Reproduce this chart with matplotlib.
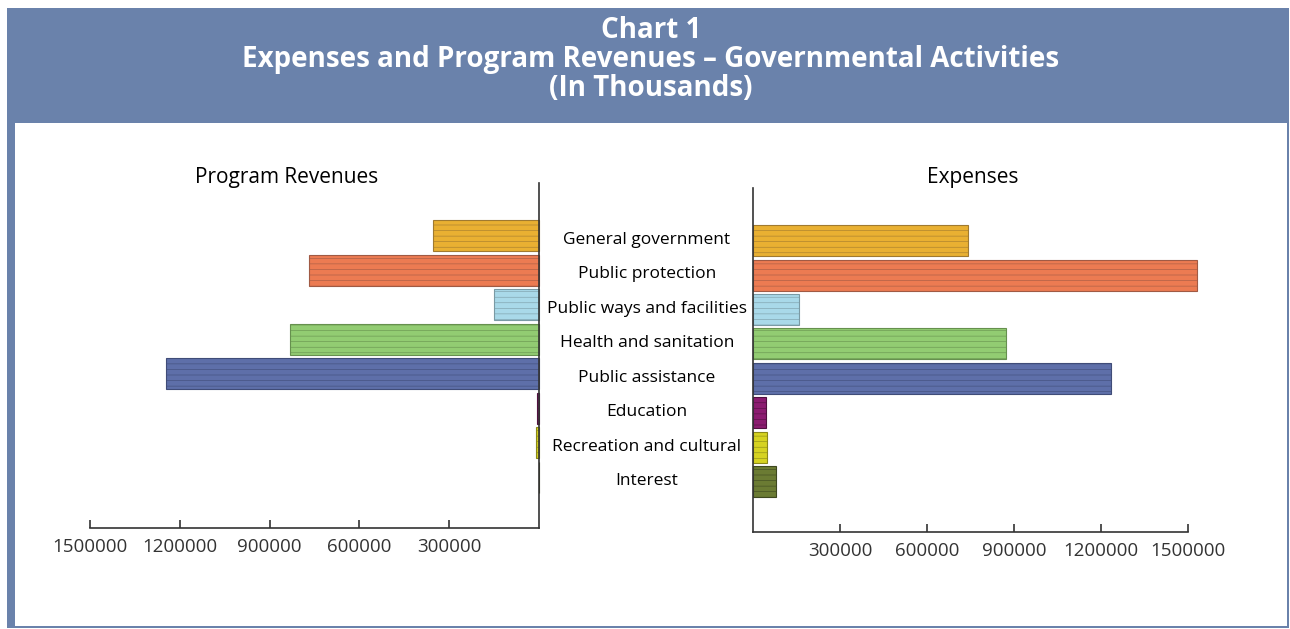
import matplotlib.pyplot as plt
from matplotlib.patches import Rectangle
from matplotlib.transforms import blended_transform_factory

# data (in thousands)
categories = ["General government", "Public protection", "Public ways and facilities",
              "Health and sanitation", "Public assistance", "Education",
              "Recreation and cultural", "Interest"]
revenues = [353000, 770000, 150000, 833000, 1247000, 8000, 10000, 0]
expenses = [741000, 1531000, 159000, 872000, 1234000, 45000, 48000, 79000]
bar_colors = ["#e9b032", "#ec7b52", "#a9d9e9", "#92cc72", "#5e6fa9",
              "#8b1c70", "#d6d321", "#6b7b33"]
edge_colors = ["#a07a30", "#a05a44", "#7a9aa4", "#66904e", "#404c78",
               "#50103f", "#8a8818", "#3e4820"]
tick_values = [300000, 600000, 900000, 1200000, 1500000]

W, H = 1290, 629
plt.rcParams['font.family'] = ['Open Sans', 'DejaVu Sans']
fig = plt.figure(figsize=(W / 100, H / 100), dpi=100)
fig.patch.set_facecolor("white")

def box(x0, y0, x1, y1):
    # pixel box (top-left origin) -> figure fraction rect
    return [x0 / W, 1 - y1 / H, (x1 - x0) / W, (y1 - y0) / H]

frame = "#6a82ab"
# header band and frame
fig.patches.append(Rectangle((7 / W, 1 - 123 / H), (1289 - 7) / W, (123 - 8) / H,
                             transform=fig.transFigure, facecolor=frame, edgecolor="none"))
fig.patches.append(Rectangle((7 / W, 1 - 628 / H), 8 / W, (628 - 123) / H,
                             transform=fig.transFigure, facecolor=frame, edgecolor="none"))
fig.patches.append(Rectangle((7 / W, 1 - 628 / H), (1289 - 7) / W, 2 / H,
                             transform=fig.transFigure, facecolor=frame, edgecolor="none"))
fig.patches.append(Rectangle((1287 / W, 1 - 628 / H), 2 / W, (628 - 8) / H,
                             transform=fig.transFigure, facecolor=frame, edgecolor="none"))

title_lines = ["Chart 1", "Expenses and Program Revenues \u2013 Governmental Activities",
               "(In Thousands)"]
for line, py in zip(title_lines, [31, 60, 89]):
    fig.text(651 / W, 1 - py / H, line, color="white", fontsize=20, fontweight="bold",
             ha="center", va="center")

plt.rcParams['hatch.linewidth'] = 0.4

axL = fig.add_axes(box(90, 183, 539, 528))
axR = fig.add_axes(box(753, 188, 1188, 532))
pos = list(range(len(categories)))

for ax, vals in [(axL, revenues), (axR, expenses)]:
    bars = ax.barh(pos, vals, height=0.9, color=bar_colors, edgecolor=edge_colors,
                   linewidth=0.8, hatch="---", clip_on=False, zorder=2)
    ax.set_ylim(8.47, -1.53)
    ax.set_facecolor("none")
    ax.set_yticks([])
    ax.set_xticks(tick_values)
    ax.set_xticklabels([str(v) for v in tick_values], fontsize=13.5, color="#333333")
    ax.tick_params(axis="x", direction="in", length=6, width=1.2, color="#333333", pad=7)
    for s in ["top", "left", "right", "bottom"]:
        ax.spines[s].set_visible(False)
    ax.spines["bottom"].set_visible(True)
    ax.spines["bottom"].set_linewidth(1.2)
    ax.spines["bottom"].set_color("#333333")

axL.set_xlim(1500000, 0)
axL.spines["right"].set_visible(True)
axL.spines["right"].set_linewidth(1.2)
axL.spines["right"].set_color("#333333")
axR.set_xlim(0, 1500000)
axR.spines["left"].set_visible(True)
axR.spines["left"].set_linewidth(1.2)
axR.spines["left"].set_color("#333333")

# category labels between the panels
trans = blended_transform_factory(fig.transFigure, axL.transData)
for i, c in enumerate(categories):
    axL.text(647 / W, i + 0.12, c, transform=trans, ha="center", va="center",
             fontsize=12.5, color="black", clip_on=False)

fig.text(287 / W, 1 - 178 / H, "Program Revenues", fontsize=15, ha="center", va="center")
fig.text(973 / W, 1 - 178 / H, "Expenses", fontsize=15, ha="center", va="center")

fig.savefig("out.png", dpi=100)
